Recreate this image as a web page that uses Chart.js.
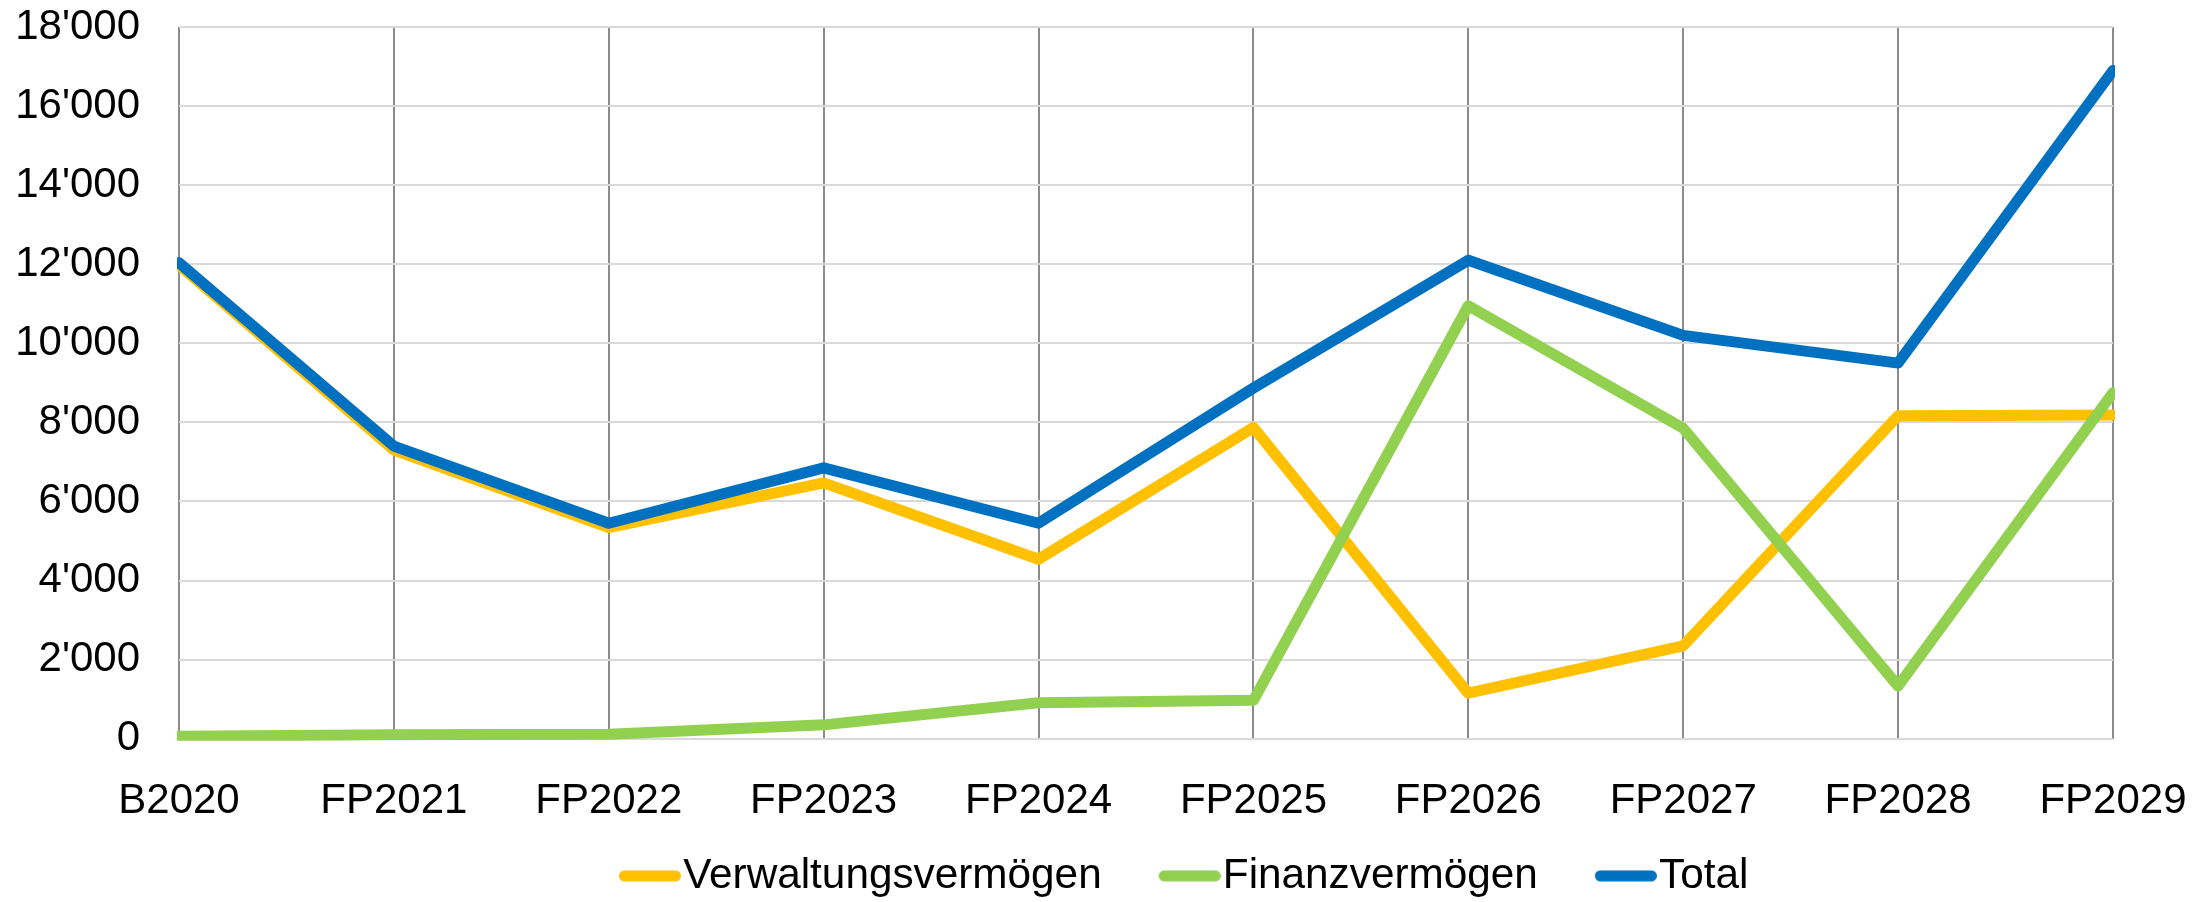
<!DOCTYPE html>
<html>
<head>
<meta charset="utf-8">
<script src="https://cdn.jsdelivr.net/npm/chart.js@4.4.1/dist/chart.umd.min.js"></script>
<style>
html,body{margin:0;padding:0;background:#ffffff;}
#wrap{width:2203px;height:902px;}
</style>
</head>
<body>
<div id="wrap"><canvas id="c" width="2203" height="902"></canvas></div>
<script>
// ---- data ----
const categories = ['B2020','FP2021','FP2022','FP2023','FP2024','FP2025','FP2026','FP2027','FP2028','FP2029'];
const verwaltungsvermoegen = [11980, 7300, 5340, 6470, 4540, 7870, 1150, 2350, 8170, 8190];
const finanzvermoegen      = [60, 100, 110, 350, 910, 970, 10950, 7850, 1330, 8750];
const total                = [12040, 7400, 5450, 6850, 5450, 8870, 12100, 10200, 9500, 16900];
const seriesNames  = ['Verwaltungsvermögen', 'Finanzvermögen', 'Total'];
const seriesColors = ['#FFC000', '#92D050', '#0070C0'];
const yTickValues  = [0, 2000, 4000, 6000, 8000, 10000, 12000, 14000, 16000, 18000];
const yTickLabels  = ['0', "2'000", "4'000", "6'000", "8'000", "10'000", "12'000", "14'000", "16'000", "18'000"];

const FONT = "'Liberation Sans', Arial, Helvetica, sans-serif";
Chart.defaults.font.family = FONT;
Chart.defaults.color = '#000000';

// legend marker: image wider than the box so the coloured stroke sits right next to the text
const BOX_W = 90;
function legendMarker(color) {
  const c = document.createElement('canvas');
  c.width = BOX_W + 38; c.height = 12;
  const g = c.getContext('2d');
  g.strokeStyle = color; g.lineWidth = 11; g.lineCap = 'round';
  const end = c.width - 5.5;
  g.beginPath(); g.moveTo(end - 51, 6); g.lineTo(end, 6); g.stroke();
  return c;
}

function ds(i, values, order) {
  return {
    label: seriesNames[i],
    data: values,
    borderColor: seriesColors[i],
    backgroundColor: seriesColors[i],
    borderWidth: 11,
    borderCapStyle: 'round',
    borderJoinStyle: 'round',
    pointRadius: 0,
    pointHoverRadius: 0,
    pointStyle: legendMarker(seriesColors[i]),
    tension: 0,
    fill: false,
    clip: 2,
    order: order
  };
}

const legendPlace = {
  id: 'legendPlace',
  afterLayout(chart) {
    const lg = chart.legend;
    if (!lg) return;
    const w = lg.right - lg.left;
    lg.left = 562; lg.right = lg.left + w;
    lg.top += 5; lg.bottom += 5;
  }
};

new Chart(document.getElementById('c'), {
  type: 'line',
  data: {
    labels: categories,
    datasets: [
      ds(0, verwaltungsvermoegen, 3),
      ds(1, finanzvermoegen, 2),
      ds(2, total, 1)
    ]
  },
  plugins: [legendPlace],
  options: {
    responsive: false,
    animation: false,
    devicePixelRatio: 1,
    layout: { padding: { left: 0, right: 90, top: 27, bottom: 0 } },
    plugins: {
      tooltip: { enabled: false },
      legend: {
        display: true,
        position: 'bottom',
        align: 'start',
        labels: {
          usePointStyle: true,
          pointStyleWidth: BOX_W,
          padding: 10,
          color: '#000000',
          font: { size: 42.3, family: FONT },
          sort: (a, b) => a.datasetIndex - b.datasetIndex
        }
      }
    },
    scales: {
      x: {
        offset: false,
        grid: { display: true, color: '#8c8c8c', lineWidth: 2, drawTicks: false },
        border: { display: false },
        ticks: { padding: 38, maxRotation: 0, autoSkip: false, color: '#000000', font: { size: 42, family: FONT, lineHeight: 1.2 } },
        afterFit: (s) => { s.height = 101; s.paddingLeft = 0; s.paddingRight = 0; }
      },
      y: {
        min: 0, max: 18000,
        afterBuildTicks: (s) => { s.ticks = yTickValues.map(v => ({ value: v })); },
        grid: { display: true, color: '#d9d9d9', lineWidth: 2, drawTicks: false },
        border: { display: false },
        ticks: {
          padding: 39,
          color: '#000000',
          font: { size: 42, family: FONT },
          callback: (v) => { const i = yTickValues.indexOf(v); return i >= 0 ? yTickLabels[i] : ''; }
        },
        afterFit: (s) => { s.width = 179; s.paddingTop = 0; s.paddingBottom = 0; }
      }
    }
  }
});
</script>
</body>
</html>
